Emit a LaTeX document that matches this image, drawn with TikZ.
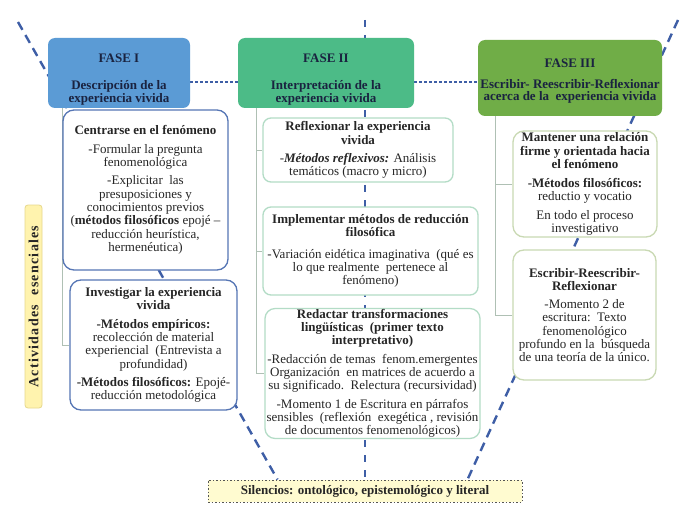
\documentclass[tikz,border=0pt]{standalone}
\usepackage{fontspec}
\setmainfont{Liberation Serif}
\usetikzlibrary{calc}
\pgfdeclarelayer{bg}
\pgfsetlayers{bg,main}
\definecolor{fone}{HTML}{5B9BD5}
\definecolor{ftwo}{HTML}{4CBB87}
\definecolor{fthree}{HTML}{70AD47}
\definecolor{dashblue}{HTML}{3E5EA6}
\definecolor{bluebord}{HTML}{5676B5}
\definecolor{greenbord}{HTML}{B3DCC6}
\definecolor{olivebord}{HTML}{C9D9B3}
\definecolor{trunkcol}{HTML}{AFC0B4}
\definecolor{txt}{HTML}{262626}
\definecolor{headtxt}{HTML}{1A2340}
\definecolor{yell}{HTML}{FFF3AE}
\definecolor{yellbord}{HTML}{E6D88C}
\definecolor{silfill}{HTML}{FFFBD0}
\definecolor{silbord}{HTML}{555555}
\begin{document}
\begin{tikzpicture}[x=1pt,y=-1pt,
  phase/.style={fill=#1, rounded corners=7pt, align=center, inner sep=1pt,
    text=headtxt, font=\fontsize{13}{12.5}\selectfont\bfseries},
  cbox/.style={draw=#1, fill=white, line width=1.3pt, rounded corners=11pt,
    align=center, inner sep=1pt, text=txt, font=\fontsize{13}{13.3}\selectfont},
  trunk/.style={draw=trunkcol, line width=0.9pt},
  dbig/.style={draw=dashblue, line width=2.4pt, dash pattern=on 9pt off 6pt},
  dmid/.style={draw=dashblue, line width=2pt, dash pattern=on 7pt off 8pt},
  dsmall/.style={draw=dashblue, line width=1.3pt, dash pattern=on 3pt off 2pt}]
\useasboundingbox (0,0) rectangle (690,513);

% phases
\node[phase=fone, minimum width=142pt, minimum height=70pt] (F1) at (119,73)
  {\rule{0pt}{21pt}FASE I\\[15pt]Descripción de la\\experiencia vivida};
\node[phase=ftwo, minimum width=176pt, minimum height=70pt] (F2) at (326,73)
  {\rule{0pt}{21pt}FASE II\\[15pt]Interpretación de la\\experiencia vivida};
\node[phase=fthree, minimum width=184pt, minimum height=76pt] (F3) at (570,78)
  {\rule{0pt}{15pt}FASE III\\[8pt]Escribir-\ Reescribir-Reflexionar\\acerca de la\ \ experiencia vivida};

% Fase I activities
\node[cbox=bluebord, minimum width=165pt, minimum height=160pt] (C1) at (145.5,190)
  {\textbf{Centrarse en el fenómeno}\\[5pt]
   -Formular la pregunta\\fenomenológica\\[5pt]
   -Explicitar\ \ las\\presuposiciones y\\conocimientos previos\\
   (\textbf{métodos filosóficos} epojé --\\reducción heurística,\\hermenéutica)};
\node[cbox=bluebord, minimum width=167pt, minimum height=130pt] (C2) at (153.5,345)
  {\textbf{Investigar la experiencia}\\\textbf{vivida}\\[5pt]
   \textbf{-Métodos empíricos:}\\recolección de material\\experiencial\ \ (Entrevista a\\profundidad)\\[5pt]
   \textbf{-Métodos filosóficos:} Epojé-\\reducción metodológica};

% Fase II activities
\node[cbox=greenbord, rounded corners=8pt, minimum width=190pt, minimum height=64pt] (R1) at (358,150)
  {\textbf{Reflexionar la experiencia}\\\textbf{vivida}\\[5pt]
   -\textbf{\textit{Métodos reflexivos:}} Análisis\\temáticos (macro y micro)};
\node[cbox=greenbord, rounded corners=8pt, minimum width=215pt, minimum height=88pt] (R2) at (370.5,251)
  {\textbf{Implementar métodos de reducción}\\\textbf{filosófica}\\[8pt]
   -Variación eidética imaginativa\ \ (qué es\\lo que realmente\ \ pertenece al\\fenómeno)};
\node[cbox=greenbord, rounded corners=10pt, minimum width=215pt, minimum height=127pt,
      font=\fontsize{13}{13}\selectfont] (R3) at (372.5,373.5)
  {\textbf{Redactar transformaciones}\\\textbf{lingüísticas\ \ (primer texto}\\\textbf{interpretativo)}\\[6pt]
   -Redacción de temas\ \ fenom.emergentes\\Organización\ \ en matrices de acuerdo a\\su significado.\ \ Relectura (recursividad)\\[6pt]
   -Momento 1 de Escritura en párrafos\\sensibles\ \ (reflexión\ \ exegética , revisión\\de documentos fenomenológicos)};

% Fase III activities
\node[cbox=olivebord, minimum width=144pt, minimum height=106pt] (M1) at (585,184)
  {\textbf{Mantener una relación}\\\textbf{firme y orientada hacia}\\\textbf{el fenómeno}\\[6pt]
   \textbf{-Métodos filosóficos:}\\reductio y vocatio\\[5pt]
   En todo el proceso\\investigativo};
\node[cbox=olivebord, minimum width=143pt, minimum height=130pt] (M2) at (584.5,315)
  {\textbf{Escribir-Reescribir-}\\\textbf{Reflexionar}\\[5pt]
   -Momento 2 de\\escritura:\ \ Texto\\fenomenológico\\profundo en la\ \ búsqueda\\de una teoría de la único.};

% side label
\node[rotate=90, fill=yell, draw=yellbord, line width=0.8pt, rounded corners=3pt,
      minimum width=203pt, minimum height=17pt, inner sep=0pt, text=txt,
      font=\fontsize{14}{14}\selectfont\bfseries\addfontfeature{LetterSpace=9}] (act) at (33.5,306.5)
  {Actividades\ \ esenciales};

% bottom box
\node[fill=silfill, draw=silbord, line width=1pt, dash pattern=on 1.5pt off 2pt,
      minimum width=314pt, minimum height=22pt, inner sep=0pt, text=txt,
      font=\fontsize{13}{13}\selectfont\bfseries] (Sil) at (365,491)
  {Silencios: ontológico, epistemológico y literal};

\coordinate (k1) at (62,0);
\coordinate (k2) at (256,0);
\coordinate (k3) at (495,0);
\coordinate (dl) at (18,22);
\coordinate (dr) at (678,20);
\coordinate (dm) at (365,20);

\begin{pgfonlayer}{bg}
  \fill[white] (0,0) rectangle (690,513);
  \draw[dbig] (dl) -- ($(Sil.north west)+(70,0)$);
  \draw[dbig] (dr) -- ($(Sil.north east)+(-55,0)$);
  \draw[dmid] (dm) -- (Sil.north);
  \draw[dsmall] ($(F1.east)+(0,9)$) -- ($(F2.west)+(0,9)$);
  \draw[dsmall] ($(F2.east)+(0,9)$) -- ($(F3.west)+(0,4)$);
  \draw[trunk] (F1.south -| k1) |- (C2.west);
  \draw[trunk] (F2.south -| k2) |- (R3.west);
  \draw[trunk] (R1.west -| k2) -- (R1.west);
  \draw[trunk] (R2.west -| k2) -- (R2.west);
  \draw[trunk] (F3.south -| k3) |- (M2.west);
  \draw[trunk] (M1.west -| k3) -- (M1.west);
\end{pgfonlayer}
\end{tikzpicture}
\end{document}
